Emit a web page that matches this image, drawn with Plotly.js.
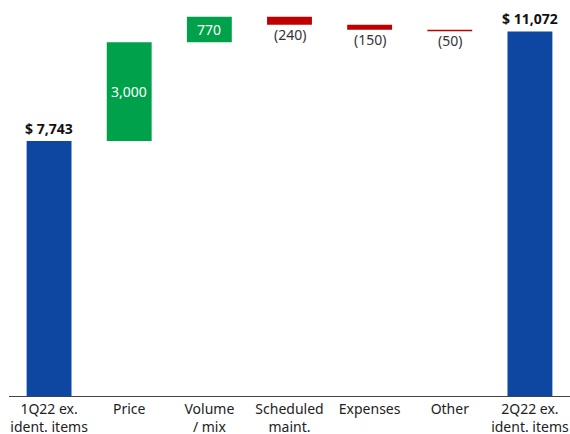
<!DOCTYPE html>
<html>
<head>
<meta charset="utf-8">
<script src="https://cdn.plot.ly/plotly-3.0.1.min.js"></script>
<style>html,body{margin:0;padding:0;background:#fff}#chart{width:570px;height:434px}</style>
</head>
<body>
<div id="chart"></div>
<script>
var categories = ["1Q22 ex.<br>ident. items", "Price", "Volume<br>/ mix", "Scheduled<br>maint.", "Expenses", "Other", "2Q22 ex.<br>ident. items"];
var values = [7743, 3000, 770, -240, -150, -50, 11072];
var kinds = ["total", "step", "step", "step", "step", "step", "total"];
var labels = ["$ 7,743", "3,000", "770", "(240)", "(150)", "(50)", "$ 11,072"];

var bases = [], heights = [], colors = [];
var run = 0;
for (var i = 0; i < values.length; i++) {
  var v = values[i];
  if (kinds[i] === "total") {
    bases.push(0); heights.push(v); run = v; colors.push("#0D47A1");
  } else if (v >= 0) {
    bases.push(run); heights.push(v); run += v; colors.push("#00A14B");
  } else {
    bases.push(run + v); heights.push(-v); run += v; colors.push("#C00000");
  }
}

var annotations = [];
for (var j = 0; j < values.length; j++) {
  var a = {x: categories[j], showarrow: false, font: {family: "Noto Sans, Open Sans, sans-serif", size: 14, color: "#222"}, text: labels[j]};
  if (kinds[j] === "total") {
    a.y = values[j]; a.yanchor = "bottom"; a.yshift = 1; a.text = "<b>" + labels[j] + "</b>"; a.font.color = "#111";
  } else if (values[j] >= 0) {
    a.y = bases[j] + heights[j] / 2; a.yanchor = "middle"; a.font.color = "#fff";
  } else {
    a.y = bases[j]; a.yanchor = "top"; a.yshift = 2; a.font.color = "#333";
  }
  annotations.push(a);
}

var trace = {
  type: "bar",
  x: categories,
  y: heights,
  base: bases,
  marker: {color: colors},
  width: 0.56,
  hoverinfo: "none"
};

var layout = {
  width: 570, height: 434,
  margin: {l: 9, r: 0, t: 0, b: 38},
  paper_bgcolor: "#fff", plot_bgcolor: "#fff",
  showlegend: false,
  font: {family: "Noto Sans, Open Sans, sans-serif", size: 14, color: "#222"},
  xaxis: {type: "category", showline: true, linecolor: "#444", linewidth: 1, ticks: "", showgrid: false, automargin: false, tickfont: {size: 14, color: "#222"}},
  yaxis: {range: [0, 12025], visible: false, showgrid: false, zeroline: false, fixedrange: true},
  annotations: annotations,
  bargap: 0.44
};

Plotly.newPlot("chart", [trace], layout, {displayModeBar: false, staticPlot: true});
</script>
</body>
</html>
